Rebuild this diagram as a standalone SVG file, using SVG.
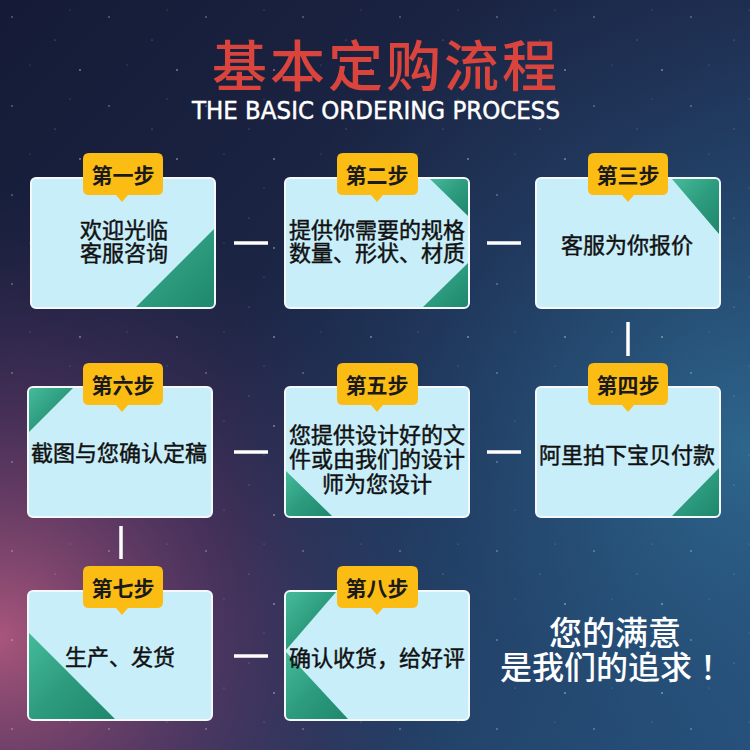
<svg xmlns="http://www.w3.org/2000/svg" width="750" height="750" viewBox="0 0 750 750">
<defs>
<linearGradient id="bgBase" x1="0" y1="0" x2="1" y2="1">
<stop offset="0" stop-color="#151b36"/>
<stop offset="0.5" stop-color="#1d2849"/>
<stop offset="1" stop-color="#26507a"/>
</linearGradient>
<radialGradient id="pinkGlow" cx="0" cy="0.85" r="0.6">
<stop offset="0" stop-color="#b0587e" stop-opacity="0.95"/>
<stop offset="0.5" stop-color="#6a3a6a" stop-opacity="0.55"/>
<stop offset="1" stop-color="#3a2a55" stop-opacity="0"/>
</radialGradient>
<radialGradient id="blueGlow" cx="1" cy="0.6" r="0.7">
<stop offset="0" stop-color="#2f6a90" stop-opacity="0.9"/>
<stop offset="0.6" stop-color="#25507a" stop-opacity="0.4"/>
<stop offset="1" stop-color="#25507a" stop-opacity="0"/>
</radialGradient>
<linearGradient id="teal" x1="0" y1="0" x2="1" y2="1">
<stop offset="0" stop-color="#45bb9a"/>
<stop offset="0.5" stop-color="#2d9c7e"/>
<stop offset="1" stop-color="#1f876c"/>
</linearGradient>
<pattern id="stars" width="97" height="89" patternUnits="userSpaceOnUse">
<circle cx="12" cy="17" r="0.8" fill="#ffffff" fill-opacity="0.5"/>
<circle cx="55" cy="40" r="0.6" fill="#ffffff" fill-opacity="0.4"/>
<circle cx="80" cy="70" r="0.9" fill="#ffffff" fill-opacity="0.45"/>
<circle cx="30" cy="65" r="0.5" fill="#ffffff" fill-opacity="0.35"/>
<circle cx="70" cy="10" r="0.5" fill="#ffffff" fill-opacity="0.35"/>
</pattern>
<style>
.box{fill:#c8eefa;stroke:#f4f8fb;stroke-width:2}
.tri{fill:url(#teal)}
.tag{fill:#fbbd14}
.tagt{font-family:"Noto Sans CJK SC","Noto Sans",sans-serif;font-size:21px;font-weight:bold;fill:#1a1a1a;text-anchor:middle;dominant-baseline:central}
.body{font-family:"Noto Sans CJK SC","Noto Sans",sans-serif;font-size:22px;font-weight:normal;fill:#111111;stroke:#111111;stroke-width:0.45;text-anchor:middle;dominant-baseline:central}
.conn{stroke:#ffffff;stroke-width:3.5;fill:none}
.slogan{font-family:"Noto Sans CJK SC",sans-serif;font-weight:500;fill:#ffffff;text-anchor:middle}
</style>
</defs>
<rect x="0" y="0" width="750" height="750" fill="url(#bgBase)"/>
<rect x="0" y="0" width="750" height="750" fill="url(#pinkGlow)"/>
<rect x="0" y="0" width="750" height="750" fill="url(#blueGlow)"/>
<rect x="0" y="0" width="750" height="750" fill="url(#stars)"/>

<g id="title">
<text x="386" y="86" font-family="'Noto Sans CJK SC',sans-serif" font-size="55" font-weight="500" fill="#d9443d" text-anchor="middle" letter-spacing="3">基本定购流程</text>
<text x="376" y="119" font-family="'DejaVu Sans','Liberation Sans',sans-serif" font-size="25" fill="#ffffff" stroke="#ffffff" stroke-width="0.5" text-anchor="middle" textLength="368" lengthAdjust="spacingAndGlyphs">THE BASIC ORDERING PROCESS</text>
</g>

<g id="connectors">
<line class="conn" x1="234" y1="243" x2="268" y2="243"/>
<line class="conn" x1="487" y1="243" x2="521" y2="243"/>
<line class="conn" x1="628" y1="322" x2="628" y2="356"/>
<line class="conn" x1="487" y1="452" x2="521" y2="452"/>
<line class="conn" x1="234" y1="452" x2="268" y2="452"/>
<line class="conn" x1="121" y1="526" x2="121" y2="559"/>
<line class="conn" x1="234" y1="656" x2="268" y2="656"/>
</g>

<g id="step1">
<rect class="box" x="31" y="178" width="184" height="130" rx="5"/>
<path class="tri" d="M136,307 L214,229 L214,303 Q214,307 210,307 Z"/>
<path class="tag" d="M89,153 H157 Q163,153 163,159 V189 Q163,195 157,195 H128 L122,202 L116,195 H89 Q83,195 83,189 V159 Q83,153 89,153 Z"/>
<text class="tagt" x="123" y="174">第一步</text>
<text class="body" x="124" y="228">欢迎光临</text>
<text class="body" x="124" y="251">客服咨询</text>
</g>

<g id="step2">
<rect class="box" x="285" y="178" width="184" height="130" rx="5"/>
<path class="tri" d="M430,179 L464,179 Q468,179 468,183 L468,216 Z"/>
<path class="tri" d="M423,307 L468,263 L468,303 Q468,307 464,307 Z"/>
<path class="tag" d="M343,153 H412 Q418,153 418,159 V189 Q418,195 412,195 H383 L377,202 L371,195 H343 Q337,195 337,189 V159 Q337,153 343,153 Z"/>
<text class="tagt" x="377" y="174">第二步</text>
<text class="body" x="377" y="228">提供你需要的规格</text>
<text class="body" x="377" y="251">数量、形状、材质</text>
</g>

<g id="step3">
<rect class="box" x="536" y="178" width="184" height="130" rx="5"/>
<path class="tri" d="M672,179 L715,179 Q719,179 719,183 L719,234 Z"/>
<path class="tag" d="M594,153 H662 Q668,153 668,159 V189 Q668,195 662,195 H634 L628,202 L622,195 H594 Q588,195 588,189 V159 Q588,153 594,153 Z"/>
<text class="tagt" x="628" y="174">第三步</text>
<text class="body" x="627" y="243">客服为你报价</text>
</g>

<g id="step4">
<rect class="box" x="536" y="387" width="184" height="130" rx="5"/>
<path class="tri" d="M672,516 L719,468 L719,512 Q719,516 715,516 Z"/>
<path class="tag" d="M594,363 H662 Q668,363 668,369 V399 Q668,405 662,405 H634 L628,412 L622,405 H594 Q588,405 588,399 V369 Q588,363 594,363 Z"/>
<text class="tagt" x="628" y="384">第四步</text>
<text class="body" x="627" y="453">阿里拍下宝贝付款</text>
</g>

<g id="step5">
<rect class="box" x="285" y="387" width="184" height="130" rx="5"/>
<path class="tri" d="M286,471 L332,516 L290,516 Q286,516 286,512 Z"/>
<path class="tag" d="M343,363 H412 Q418,363 418,369 V399 Q418,405 412,405 H383 L377,412 L371,405 H343 Q337,405 337,399 V369 Q337,363 343,363 Z"/>
<text class="tagt" x="377" y="384">第五步</text>
<text class="body" x="377" y="433">您提供设计好的文</text>
<text class="body" x="377" y="457">件或由我们的设计</text>
<text class="body" x="377" y="482">师为您设计</text>
</g>

<g id="step6">
<rect class="box" x="28" y="387" width="184" height="130" rx="5"/>
<path class="tri" d="M29,432 L29,392 Q29,388 33,388 L73,388 Z"/>
<path class="tag" d="M89,363 H157 Q163,363 163,369 V399 Q163,405 157,405 H128 L122,412 L116,405 H89 Q83,405 83,399 V369 Q83,363 89,363 Z"/>
<text class="tagt" x="123" y="384">第六步</text>
<text class="body" x="119" y="451">截图与您确认定稿</text>
</g>

<g id="step7">
<rect class="box" x="28" y="591" width="184" height="129" rx="5"/>
<path class="tri" d="M29,633 L115,719 L33,719 Q29,719 29,715 Z"/>
<path class="tag" d="M89,566 H157 Q163,566 163,572 V602 Q163,608 157,608 H128 L122,615 L116,608 H89 Q83,608 83,602 V572 Q83,566 89,566 Z"/>
<text class="tagt" x="123" y="587">第七步</text>
<text class="body" x="120" y="655">生产、发货</text>
</g>

<g id="step8">
<rect class="box" x="285" y="591" width="184" height="129" rx="5"/>
<path class="tri" d="M286,596 Q286,592 290,592 L336,592 L286,650 Z"/>
<path class="tri" d="M286,652 L348,719 L290,719 Q286,719 286,715 Z"/>
<path class="tag" d="M343,566 H412 Q418,566 418,572 V602 Q418,608 412,608 H383 L377,615 L371,608 H343 Q337,608 337,602 V572 Q337,566 343,566 Z"/>
<text class="tagt" x="377" y="587">第八步</text>
<text class="body" x="377" y="656">确认收货，给好评</text>
</g>

<g id="slogan">
<text class="slogan" x="615" y="645" font-size="33">您的满意</text>
<text class="slogan" x="596" y="679" font-size="32">是我们的追求</text>
<text class="slogan" x="716" y="679" font-size="32">！</text>
</g>
</svg>
